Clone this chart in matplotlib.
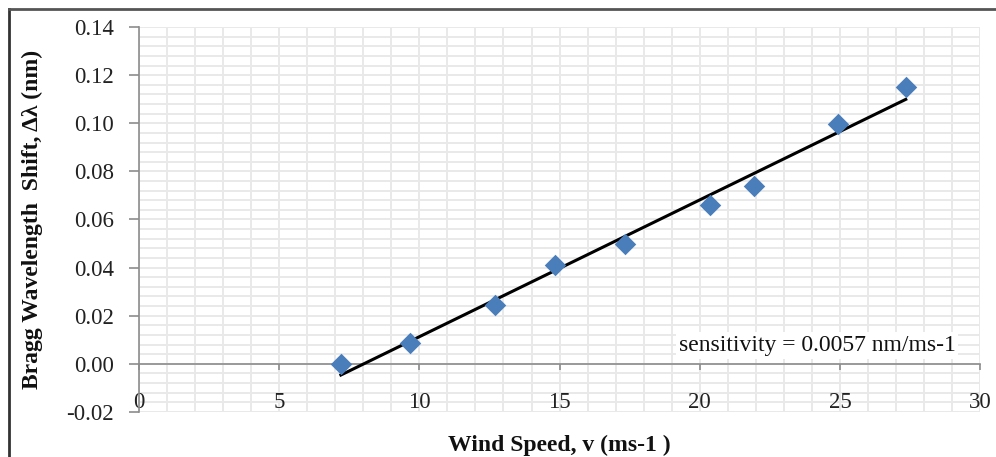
import numpy as np
import matplotlib.pyplot as plt
from matplotlib.lines import Line2D
from matplotlib.ticker import MultipleLocator

# Data
wind_speed = [7.2, 9.65, 12.7, 14.85, 17.35, 20.35, 21.95, 24.95, 27.35]
shift = [0.000, 0.0088, 0.0245, 0.041, 0.050, 0.066, 0.074, 0.0995, 0.115]
note = "sensitivity = 0.0057 nm/ms-1"

plt.rcParams['font.family'] = ['Liberation Serif', 'DejaVu Serif']

fig = plt.figure(figsize=(9.96, 4.57), dpi=100)
ax = fig.add_axes([0.1396, 0.0985, 0.8444, 0.8424])

# linear trend line
k, b = np.polyfit(wind_speed, shift, 1)
xs = np.array([min(wind_speed), max(wind_speed)])
ax.plot(xs, k * xs + b, color='black', lw=2.2, zorder=3)
ax.scatter(wind_speed, shift, marker='D', s=120, color='#4a7ebb', zorder=4,
           linewidths=0)

ax.set_xlim(0, 30)
ax.set_ylim(-0.02, 0.14)
ax.xaxis.set_major_locator(MultipleLocator(5))
ax.xaxis.set_minor_locator(MultipleLocator(1))
ax.yaxis.set_major_locator(MultipleLocator(0.02))
ax.yaxis.set_minor_locator(MultipleLocator(0.004))
ax.yaxis.set_major_formatter(plt.FormatStrFormatter('%.2f'))
ax.grid(which='both', color='#e9e9e9', lw=1.4)
ax.set_axisbelow(True)
ax.xaxis.set_zorder(1.5)  # x labels sit above the horizontal grid

# spines: left at x=0, bottom crosses at y=0
for s in ['top', 'right']:
    ax.spines[s].set_visible(False)
ax.spines['bottom'].set_position(('data', 0))
ax.spines['bottom'].set_color('#8c8c8c')
ax.spines['left'].set_color('#8c8c8c')
ax.spines['bottom'].set_linewidth(1.2)
ax.spines['left'].set_linewidth(1.2)
ax.tick_params(axis='y', which='major', length=7, width=1.2, color='#8c8c8c',
               pad=11, labelsize=16.5, labelcolor='#222222')
ax.tick_params(axis='x', which='major', length=4, width=1.2, color='#8c8c8c',
               pad=16, labelsize=16.5, labelcolor='#222222')
ax.tick_params(which='minor', length=0)

ax.set_xlabel('Wind Speed, v (ms-1 )', fontsize=17, fontweight='bold',
              color='#111111')
ax.xaxis.set_label_coords(0.5, -0.058)
ax.set_ylabel('Bragg Wavelength  Shift, Δλ (nm)', fontsize=17,
              fontweight='bold', color='#111111')
ax.yaxis.set_label_coords(-0.114, 0.5)

ax.text(19.25, 0.0075, note, fontsize=17, color='#111111', va='center',
        bbox=dict(facecolor='white', edgecolor='none', pad=2), zorder=5)

# outer frame (top and left edges)
fig.add_artist(Line2D([9 / 996, 9 / 996], [0, 1 - 8.5 / 457],
                      transform=fig.transFigure, color='#333333', lw=2))
fig.add_artist(Line2D([9 / 996, 1], [1 - 8.5 / 457, 1 - 8.5 / 457],
                      transform=fig.transFigure, color='#555555', lw=2))

fig.savefig('out.png', dpi=100)
